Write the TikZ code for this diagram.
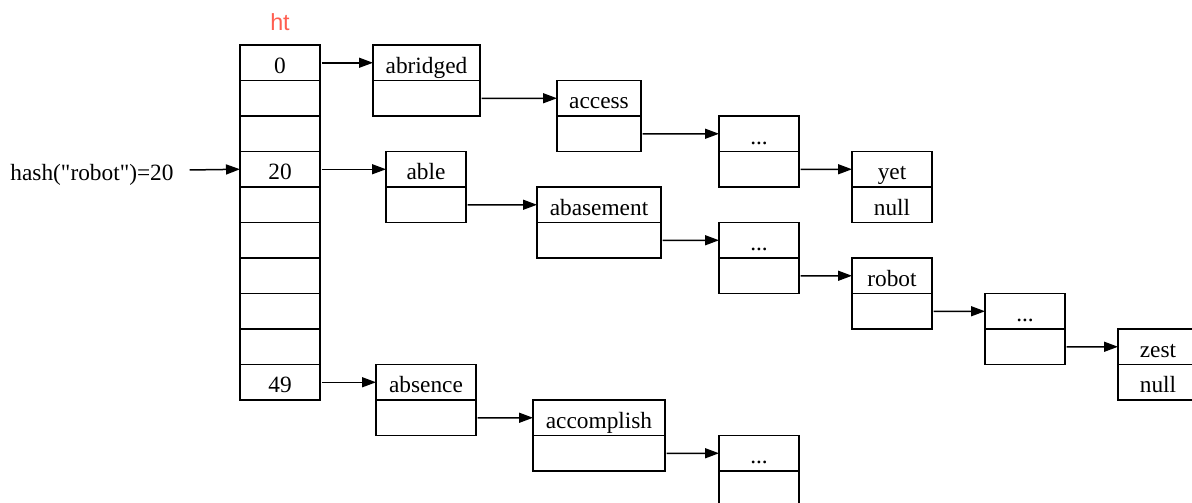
\documentclass[tikz,border=0pt]{standalone}
\usepackage{fontspec}
\setmainfont{Liberation Serif}[Ligatures=TeXOff]
\newfontfamily\htfont{Liberation Sans}
\usetikzlibrary{arrows.meta}
\definecolor{htred}{RGB}{255,94,80}
\tikzset{
  fld/.style={draw, rectangle, line width=0.9pt, inner sep=0pt, outer sep=0pt,
    minimum height=21.3pt, text height=12.6pt, text depth=0pt,
    font=\fontsize{14}{16}\selectfont},
  arr/.style={line width=0.9pt, -{Triangle[length=8.4pt,width=6pt]}, shorten <=1pt},
  lbl/.style={font=\fontsize{14}{16}\selectfont, inner sep=0pt, text height=12.6pt, text depth=0pt}
}
\newcommand{\rec}[6]{%
  \node[fld, minimum width=#4*0.6pt] (#1) at (#2, 62.75+35.5*#3) {#5};
  \node[fld, minimum width=#4*0.6pt, anchor=north] (#1b) at (#1.south) {#6};
}
\begin{document}
\begin{tikzpicture}[x=0.6pt, y=-0.6pt]
\useasboundingbox (0,0) rectangle (1192,502);
% hash table
\foreach \i/\t in {0/0,1/,2/,3/20,4/,5/,6/,7/,8/,9/49}{
  \node[fld, minimum width=48pt] (h\i) at (280, 62.75+35.5*\i) {\t};
}
\node[text=htred, inner sep=0pt, font=\htfont\fontsize{14}{16}\selectfont] (ht) at (280,22) {ht};
\node[lbl] (hash) at (92,170) {hash("robot")=20};
\coordinate (hs) at (188,170);
\draw[arr] (hs) -- (h3.west);
% records
\rec{abridged}{426.5}{0}{107}{abridged}{}
\rec{access}{599}{1}{84}{access}{}
\rec{dotsA}{759}{2}{80}{...}{}
\rec{yet}{892}{3}{80}{yet}{null}
\rec{able}{426}{3}{80}{able}{}
\rec{abasement}{599}{4}{124}{abasement}{}
\rec{dotsB}{759}{5}{80}{...}{}
\rec{robot}{892}{6}{80}{robot}{}
\rec{dotsC}{1025}{7}{80}{...}{}
\rec{zest}{1158}{8}{80}{zest}{null}
\rec{absence}{426}{9}{100}{absence}{}
\rec{accomplish}{599}{10}{132}{accomplish}{}
\rec{dotsD}{759}{11}{80}{...}{}
% arrows
\draw[arr] (h0.east) -- (abridged.west);
\draw[arr] (abridgedb.east) -- (access.west);
\draw[arr] (accessb.east) -- (dotsA.west);
\draw[arr] (dotsAb.east) -- (yet.west);
\draw[arr] (h3.east) -- (able.west);
\draw[arr] (ableb.east) -- (abasement.west);
\draw[arr] (abasementb.east) -- (dotsB.west);
\draw[arr] (dotsBb.east) -- (robot.west);
\draw[arr] (robotb.east) -- (dotsC.west);
\draw[arr] (dotsCb.east) -- (zest.west);
\draw[arr] (h9.east) -- (absence.west);
\draw[arr] (absenceb.east) -- (accomplish.west);
\draw[arr] (accomplishb.east) -- (dotsD.west);
\end{tikzpicture}
\end{document}
